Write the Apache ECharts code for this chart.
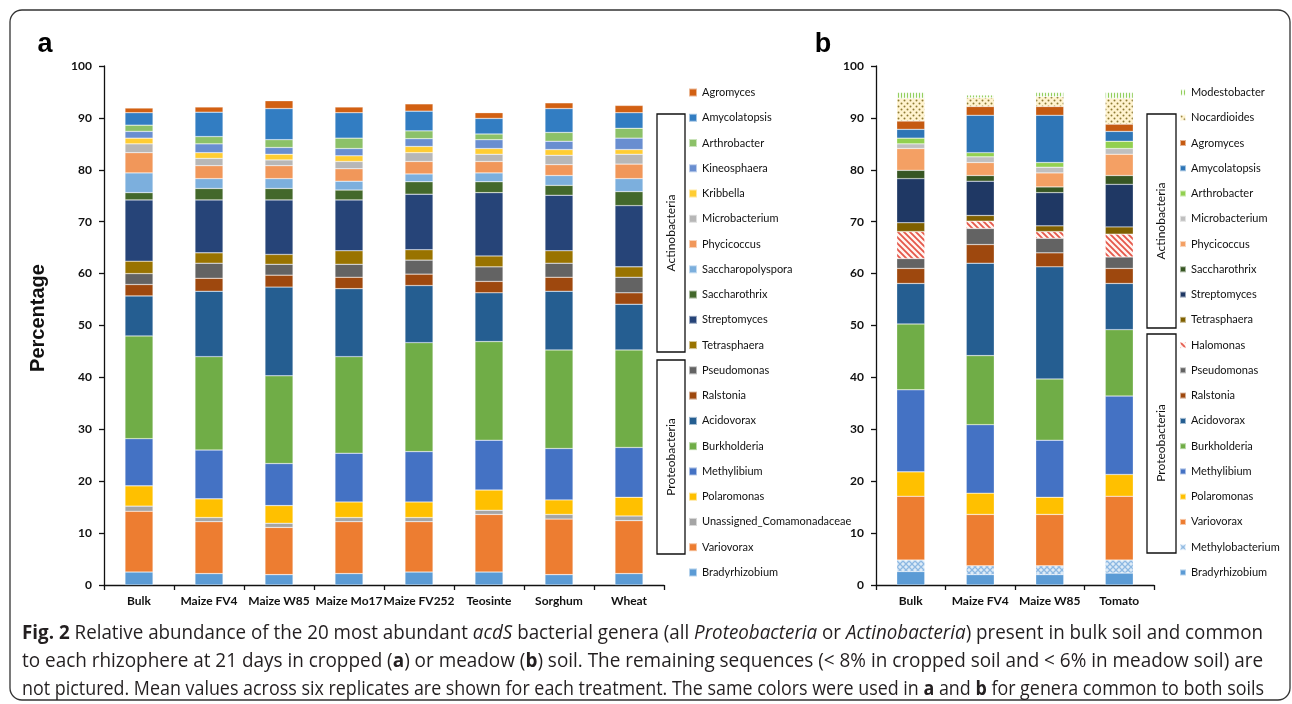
<!DOCTYPE html>
<html>
<head>
<meta charset="utf-8">
<style>
html,body{margin:0;padding:0;background:#fff;}
#chart{width:1292px;height:704px;}
</style>
<script src="https://cdn.jsdelivr.net/npm/echarts@6/dist/echarts.min.js"></script>
</head>
<body>
<div id="chart"></div>
<script>
// ---------------- DATA ----------------
const catsA = ['Bulk', 'Maize FV4', 'Maize W85', 'Maize Mo17', 'Maize FV252', 'Teosinte', 'Sorghum', 'Wheat'];
const catsB = ['Bulk', 'Maize FV4', 'Maize W85', 'Tomato'];
const yTicks = [0, 10, 20, 30, 40, 50, 60, 70, 80, 90, 100];

// Panel a (cropped soil), stacked bottom -> top
const a_Bradyrhizobium = [2.5, 2.2, 2.0, 2.2, 2.5, 2.5, 2.0, 2.2];
const a_Variovorax = [11.7, 10.0, 9.1, 10.0, 9.7, 11.1, 10.7, 10.2];
const a_Unassigned = [1.0, 0.8, 0.8, 0.8, 0.8, 0.8, 0.9, 0.9];
const a_Polaromonas = [3.9, 3.6, 3.4, 3.0, 3.0, 3.9, 2.8, 3.6];
const a_Methylibium = [9.1, 9.4, 8.1, 9.4, 9.7, 9.6, 9.9, 9.6];
const a_Burkholderia = [19.8, 18.0, 16.9, 18.6, 21.0, 19.0, 19.0, 18.8];
const a_Acidovorax = [7.7, 12.6, 17.1, 13.1, 11.0, 9.4, 11.3, 8.8];
const a_Ralstonia = [2.2, 2.5, 2.3, 2.2, 2.2, 2.2, 2.7, 2.2];
const a_Pseudomonas = [2.1, 2.9, 2.1, 2.5, 2.7, 2.8, 2.7, 3.0];
const a_Tetrasphaera = [2.4, 2.0, 1.9, 2.6, 2.0, 2.1, 2.4, 2.0];
const a_Streptomyces = [11.8, 10.2, 10.5, 9.8, 10.7, 12.2, 10.7, 11.8];
const a_Saccharothrix = [1.4, 2.2, 2.2, 1.9, 2.4, 2.1, 1.9, 2.7];
const a_Saccharopolyspora = [3.8, 1.9, 1.9, 1.7, 1.5, 1.7, 1.9, 2.5];
const a_Phycicoccus = [3.9, 2.5, 2.5, 2.4, 2.4, 2.2, 2.1, 2.8];
const a_Microbacterium = [1.7, 1.4, 1.1, 1.4, 1.7, 1.4, 1.8, 1.9];
const a_Kribbella = [1.1, 1.1, 1.1, 1.1, 1.2, 1.1, 1.1, 0.9];
const a_Kineosphaera = [1.3, 1.7, 1.3, 1.4, 1.5, 1.7, 1.6, 2.2];
const a_Arthrobacter = [1.2, 1.4, 1.5, 2.0, 1.5, 1.1, 1.7, 1.9];
const a_Amycolatopsis = [2.4, 4.7, 6.0, 4.9, 3.8, 3.0, 4.6, 3.0];
const a_Agromyces = [0.9, 1.0, 1.5, 1.1, 1.4, 1.1, 1.1, 1.4];

// Panel b (meadow soil), stacked bottom -> top
const b_Bradyrhizobium = [2.6, 2.0, 2.0, 2.3];
const b_Methylobacterium = [2.2, 1.7, 1.7, 2.5];
const b_Variovorax = [12.3, 9.9, 9.9, 12.3];
const b_Polaromonas = [4.7, 4.1, 3.3, 4.2];
const b_Methylibium = [15.8, 13.2, 11.0, 15.1];
const b_Burkholderia = [12.7, 13.3, 11.8, 12.8];
const b_Acidovorax = [7.8, 17.8, 21.6, 8.9];
const b_Ralstonia = [2.9, 3.6, 2.7, 2.9];
const b_Pseudomonas = [1.9, 3.1, 2.8, 2.2];
const b_Halomonas = [5.2, 1.4, 1.3, 4.4];
const b_Tetrasphaera = [1.7, 1.1, 1.1, 1.4];
const b_Streptomyces = [8.5, 6.6, 6.4, 8.2];
const b_Saccharothrix = [1.6, 1.1, 1.1, 1.7];
const b_Phycicoccus = [4.2, 2.5, 2.7, 4.1];
const b_Microbacterium = [0.9, 1.1, 1.1, 1.1];
const b_Arthrobacter = [1.1, 0.8, 0.9, 1.4];
const b_Amycolatopsis = [1.7, 7.2, 9.1, 1.9];
const b_Agromyces = [1.6, 1.7, 1.7, 1.4];
const b_Nocardioides = [4.4, 1.7, 1.9, 5.0];
const b_Modestobacter = [1.1, 0.5, 0.8, 1.1];

// ---------------- PATTERNS ----------------
function pat(w, h, draw) {
  const c = document.createElement('canvas');
  c.width = w; c.height = h;
  draw(c.getContext('2d'));
  return { image: c, repeat: 'repeat' };
}
const patMethylobacterium = pat(6, 6, g => {
  g.fillStyle = '#DDEBF7'; g.fillRect(0, 0, 6, 6);
  g.strokeStyle = '#8DB8E2'; g.lineWidth = 1.3;
  g.beginPath(); g.moveTo(0, 0); g.lineTo(6, 6); g.moveTo(6, 0); g.lineTo(0, 6); g.stroke();
});
const patHalomonas = pat(6, 6, g => {
  g.fillStyle = '#FFF4F0'; g.fillRect(0, 0, 6, 6);
  g.strokeStyle = '#E5574A'; g.lineWidth = 1.8;
  g.beginPath();
  g.moveTo(-1, -1); g.lineTo(7, 7);
  g.moveTo(-4, 2); g.lineTo(4, 10);
  g.moveTo(2, -4); g.lineTo(10, 4);
  g.stroke();
});
const patNocardioides = pat(6, 6, g => {
  g.fillStyle = '#FFF3CF'; g.fillRect(0, 0, 6, 6);
  g.fillStyle = '#8E7B34';
  g.beginPath(); g.arc(1.5, 1.5, 1.0, 0, Math.PI * 2); g.fill();
  g.beginPath(); g.arc(4.5, 4.5, 1.0, 0, Math.PI * 2); g.fill();
});
const patModestobacter = pat(3, 3, g => {
  g.fillStyle = '#F4FAEE'; g.fillRect(0, 0, 3, 3);
  g.fillStyle = '#92CF5C'; g.fillRect(1, 0, 1, 3);
});

// ---------------- SERIES DEFINITIONS ----------------
const seriesA = [
  ['Bradyrhizobium', a_Bradyrhizobium, '#5B9BD5'],
  ['Variovorax', a_Variovorax, '#ED7D31'],
  ['Unassigned_Comamonadaceae', a_Unassigned, '#A5A5A5'],
  ['Polaromonas', a_Polaromonas, '#FFC000'],
  ['Methylibium', a_Methylibium, '#4472C4'],
  ['Burkholderia', a_Burkholderia, '#70AD47'],
  ['Acidovorax', a_Acidovorax, '#255E91'],
  ['Ralstonia', a_Ralstonia, '#9E480E'],
  ['Pseudomonas', a_Pseudomonas, '#636363'],
  ['Tetrasphaera', a_Tetrasphaera, '#997300'],
  ['Streptomyces', a_Streptomyces, '#264478'],
  ['Saccharothrix', a_Saccharothrix, '#43682B'],
  ['Saccharopolyspora', a_Saccharopolyspora, '#7CAFDD'],
  ['Phycicoccus', a_Phycicoccus, '#F1975A'],
  ['Microbacterium', a_Microbacterium, '#B7B7B7'],
  ['Kribbella', a_Kribbella, '#FFCD33'],
  ['Kineosphaera', a_Kineosphaera, '#698ED0'],
  ['Arthrobacter', a_Arthrobacter, '#8CC168'],
  ['Amycolatopsis', a_Amycolatopsis, '#327DC2'],
  ['Agromyces', a_Agromyces, '#D26012']
];
const seriesB = [
  ['Bradyrhizobium', b_Bradyrhizobium, '#5B9BD5'],
  ['Methylobacterium', b_Methylobacterium, patMethylobacterium],
  ['Variovorax', b_Variovorax, '#ED7D31'],
  ['Polaromonas', b_Polaromonas, '#FFC000'],
  ['Methylibium', b_Methylibium, '#4472C4'],
  ['Burkholderia', b_Burkholderia, '#70AD47'],
  ['Acidovorax', b_Acidovorax, '#255E91'],
  ['Ralstonia', b_Ralstonia, '#9E480E'],
  ['Pseudomonas', b_Pseudomonas, '#636363'],
  ['Halomonas', b_Halomonas, patHalomonas],
  ['Tetrasphaera', b_Tetrasphaera, '#7F6000'],
  ['Streptomyces', b_Streptomyces, '#1F3864'],
  ['Saccharothrix', b_Saccharothrix, '#375623'],
  ['Phycicoccus', b_Phycicoccus, '#F4A064'],
  ['Microbacterium', b_Microbacterium, '#BFBFBF'],
  ['Arthrobacter', b_Arthrobacter, '#92D050'],
  ['Amycolatopsis', b_Amycolatopsis, '#2E75B6'],
  ['Agromyces', b_Agromyces, '#C55A11'],
  ['Nocardioides', b_Nocardioides, patNocardioides],
  ['Modestobacter', b_Modestobacter, patModestobacter]
];

const series = [];
seriesA.forEach(([name, data, color]) => series.push({
  type: 'bar', name, data, stack: 'a', xAxisIndex: 0, yAxisIndex: 0, barWidth: 28,
  itemStyle: { color, borderColor: 'rgba(255,255,255,0.55)', borderWidth: 0.5 },
  emphasis: { disabled: true }
}));
seriesB.forEach(([name, data, color]) => series.push({
  type: 'bar', name, data, stack: 'b', xAxisIndex: 1, yAxisIndex: 1, barWidth: 28,
  itemStyle: { color, borderColor: 'rgba(255,255,255,0.55)', borderWidth: 0.5 },
  emphasis: { disabled: true }
}));

const legendFont = { fontFamily: 'Lato', fontSize: 11, color: '#111', lineHeight: 12 };
const legendA = seriesA.slice().reverse().map(([name, , color]) => ({ name, itemStyle: { color } }));
const legendB = seriesB.slice().reverse().map(([name, , color]) => ({ name, itemStyle: { color } }));

const axisLabelFont = { fontFamily: 'Lato', fontWeight: 'bold', fontSize: 12, color: '#111' };
function xAx(idx, cats) {
  return {
    type: 'category', gridIndex: idx, data: cats,
    axisLine: { lineStyle: { color: '#111', width: 1.3 } },
    axisTick: { show: true, length: 5, lineStyle: { color: '#111', width: 1.3 } },
    axisLabel: Object.assign({ interval: 0, margin: 10 }, axisLabelFont)
  };
}
function yAx(idx) {
  return {
    type: 'value', gridIndex: idx, min: yTicks[0], max: yTicks[yTicks.length - 1], interval: 10,
    splitLine: { show: false },
    axisLine: { show: true, lineStyle: { color: '#111', width: 1.3 } },
    axisTick: { show: true, length: 5, lineStyle: { color: '#111', width: 1.3 } },
    axisLabel: Object.assign({ margin: 12 }, axisLabelFont)
  };
}

// ---------------- CAPTION ----------------
const captionLines = [
  [['b', 'Fig. 2'], ['n', ' Relative abundance of the 20 most abundant '], ['i', 'acdS'], ['n', ' bacterial genera (all '], ['i', 'Proteobacteria'], ['n', ' or '], ['i', 'Actinobacteria'], ['n', ') present in bulk soil and common']],
  [['n', 'to each rhizophere at 21 days in cropped ('], ['b', 'a'], ['n', ') or meadow ('], ['b', 'b'], ['n', ') soil. The remaining sequences (< 8% in cropped soil and < 6% in meadow soil) are']],
  [['n', 'not pictured. Mean values across six replicates are shown for each treatment. The same colors were used in '], ['b', 'a'], ['n', ' and '], ['b', 'b'], ['n', ' for genera common to both soils']]
];
const capFontSize = 20, capFamily = 'Open Sans';
const capFonts = {
  n: `${capFontSize}px "${capFamily}"`,
  b: `bold ${capFontSize}px "${capFamily}"`,
  i: `italic ${capFontSize}px "${capFamily}"`
};
const mctx = document.createElement('canvas').getContext('2d');
function lineWidthOf(parts) {
  let w = 0;
  parts.forEach(([k, t]) => { mctx.font = capFonts[k]; w += mctx.measureText(t).width; });
  return w;
}
const capTargets = [1241, 1241, 1242];
const capY = [633, 661, 689];
const capGraphics = captionLines.map((parts, i) => {
  const txt = parts.map(([k, t]) => `{${k}|${t}}`).join('');
  const s = capTargets[i] / lineWidthOf(parts);
  return {
    type: 'text', x: 22, y: capY[i], scaleX: s, silent: true,
    style: {
      text: txt, x: 0, y: 0, verticalAlign: 'middle', fill: '#231F20',
      rich: {
        n: { fontFamily: capFamily, fontSize: capFontSize, fill: '#231F20' },
        b: { fontFamily: capFamily, fontSize: capFontSize, fontWeight: 'bold', fill: '#231F20' },
        i: { fontFamily: capFamily, fontSize: capFontSize, fontStyle: 'italic', fill: '#231F20' }
      }
    }
  };
});

function box(x, y, w, h) {
  return { type: 'rect', silent: true, shape: { x, y, width: w, height: h }, style: { fill: 'none', stroke: '#111', lineWidth: 1.3 } };
}
function vtext(x, y, text, size, bold) {
  return {
    type: 'text', x, y, rotation: Math.PI / 2, silent: true,
    style: { text, x: 0, y: 0, align: 'center', verticalAlign: 'middle', fill: '#111',
      fontFamily: bold ? 'Liberation Sans' : 'Lato', fontSize: size, fontWeight: bold ? 'bold' : 'normal' }
  };
}

const chart = echarts.init(document.getElementById('chart'), null, { renderer: 'canvas' });
chart.setOption({
  animation: false,
  backgroundColor: '#fff',
  grid: [
    { left: 104, top: 66, width: 560, height: 519 },
    { left: 876, top: 66, width: 278, height: 519 }
  ],
  xAxis: [xAx(0, catsA), xAx(1, catsB)],
  yAxis: [yAx(0), yAx(1)],
  legend: [
    { data: legendA, orient: 'vertical', left: 688, top: 86.5, padding: 0, icon: 'rect', itemWidth: 8, itemHeight: 8,
      itemGap: 13.26, textStyle: legendFont, selectedMode: false },
    { data: legendB, orient: 'vertical', left: 1179, top: 86.5, padding: 0, icon: 'rect', itemWidth: 6, itemHeight: 6,
      itemGap: 13.26, textStyle: legendFont, selectedMode: false }
  ],
  series,
  graphic: [
    { type: 'rect', silent: true, shape: { x: 10, y: 10, width: 1280, height: 690, r: 12 }, style: { fill: 'none', stroke: '#333', lineWidth: 1.3 } },
    { type: 'text', x: 45, y: 45, silent: true, style: { text: 'a', align: 'center', verticalAlign: 'middle', fontFamily: 'Liberation Sans', fontWeight: 'bold', fontSize: 27, fill: '#000' } },
    { type: 'text', x: 823, y: 45, silent: true, style: { text: 'b', align: 'center', verticalAlign: 'middle', fontFamily: 'Liberation Sans', fontWeight: 'bold', fontSize: 27, fill: '#000' } },
    vtext(38, 318, 'Percentage', 20, true),
    box(657, 114, 28, 238), box(657, 360, 28, 194),
    vtext(671, 233, 'Actinobacteria', 12, false), vtext(671, 457, 'Proteobacteria', 12, false),
    box(1147, 114, 29, 214), box(1147, 334, 29, 219),
    vtext(1161, 221, 'Actinobacteria', 12, false), vtext(1161, 443, 'Proteobacteria', 12, false)
  ].concat(capGraphics)
});
</script>
</body>
</html>
